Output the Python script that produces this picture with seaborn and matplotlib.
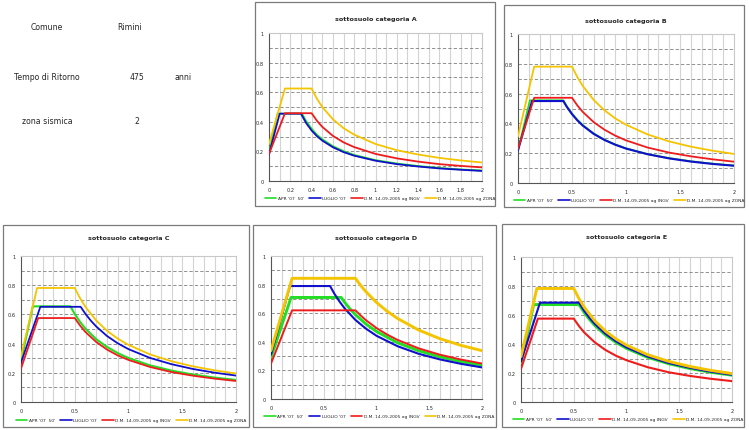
import matplotlib
matplotlib.use("Agg")
import matplotlib.pyplot as plt
from matplotlib.patches import Rectangle
from matplotlib.lines import Line2D
import seaborn as sns
import pandas as pd

# ---------------- data (periodo T [s], accelerazione spettrale Sa [g]) ----------------
series_names = ["APR '07  50'", "LUGLIO '07", "D.M. 14-09-2005 ag INGV", "D.M. 14-09-2005 ag ZONA"]
series_colors = ["#22dd22", "#1010cc", "#ee1c1c", "#f5c400"]

info_labels = ["Comune", "Tempo di Ritorno", "zona sismica"]
info_values = ["Rimini", "475", "2"]

# Panel A
A_T_apr = [0, 0.08, 0.31, 0.35, 0.4, 0.45, 0.5, 0.6, 0.7, 0.8, 1.0, 1.2, 1.4, 1.6, 1.8, 2.0]
A_S_apr = [0.19, 0.455, 0.455, 0.403, 0.353, 0.313, 0.282, 0.235, 0.202, 0.176, 0.141, 0.118, 0.101, 0.088, 0.078, 0.071]
A_T_lug = [0, 0.1, 0.3, 0.35, 0.4, 0.45, 0.5, 0.6, 0.7, 0.8, 1.0, 1.2, 1.4, 1.6, 1.8, 2.0]
A_S_lug = [0.18, 0.455, 0.455, 0.39, 0.341, 0.303, 0.273, 0.228, 0.195, 0.171, 0.137, 0.114, 0.098, 0.085, 0.076, 0.068]
A_T_ingv = [0, 0.15, 0.4, 0.45, 0.5, 0.6, 0.7, 0.8, 1.0, 1.2, 1.4, 1.6, 1.8, 2.0]
A_S_ingv = [0.183, 0.458, 0.458, 0.407, 0.366, 0.305, 0.261, 0.229, 0.183, 0.153, 0.131, 0.114, 0.102, 0.092]
A_T_zona = [0, 0.15, 0.4, 0.45, 0.5, 0.6, 0.7, 0.8, 1.0, 1.2, 1.4, 1.6, 1.8, 2.0]
A_S_zona = [0.25, 0.625, 0.625, 0.556, 0.5, 0.417, 0.357, 0.313, 0.25, 0.208, 0.179, 0.156, 0.139, 0.125]

# Panel B
B_T_apr = [0, 0.11, 0.42, 0.45, 0.5, 0.55, 0.6, 0.7, 0.8, 0.9, 1.0, 1.2, 1.4, 1.6, 1.8, 2.0]
B_S_apr = [0.22, 0.555, 0.555, 0.518, 0.466, 0.424, 0.389, 0.333, 0.291, 0.259, 0.233, 0.194, 0.167, 0.146, 0.13, 0.117]
B_T_lug = [0, 0.13, 0.42, 0.45, 0.5, 0.55, 0.6, 0.7, 0.8, 0.9, 1.0, 1.2, 1.4, 1.6, 1.8, 2.0]
B_S_lug = [0.22, 0.55, 0.55, 0.513, 0.462, 0.42, 0.385, 0.33, 0.289, 0.257, 0.231, 0.193, 0.165, 0.144, 0.128, 0.116]
B_T_ingv = [0, 0.15, 0.5, 0.55, 0.6, 0.7, 0.8, 0.9, 1.0, 1.2, 1.4, 1.6, 1.8, 2.0]
B_S_ingv = [0.229, 0.572, 0.572, 0.52, 0.477, 0.409, 0.358, 0.318, 0.286, 0.238, 0.204, 0.179, 0.159, 0.143]
B_T_zona = [0, 0.15, 0.5, 0.55, 0.6, 0.7, 0.8, 0.9, 1.0, 1.2, 1.4, 1.6, 1.8, 2.0]
B_S_zona = [0.313, 0.781, 0.781, 0.71, 0.651, 0.558, 0.488, 0.434, 0.391, 0.326, 0.279, 0.244, 0.217, 0.195]

# Panel C
C_T_apr = [0, 0.11, 0.46, 0.5, 0.55, 0.6, 0.7, 0.8, 0.9, 1.0, 1.2, 1.4, 1.6, 1.8, 2.0]
C_S_apr = [0.28, 0.655, 0.655, 0.603, 0.548, 0.502, 0.43, 0.377, 0.335, 0.301, 0.251, 0.215, 0.188, 0.167, 0.151]
C_T_lug = [0, 0.18, 0.555, 0.6, 0.65, 0.7, 0.8, 0.9, 1.0, 1.2, 1.4, 1.6, 1.8, 2.0]
C_S_lug = [0.27, 0.652, 0.652, 0.603, 0.557, 0.517, 0.452, 0.402, 0.362, 0.302, 0.259, 0.226, 0.201, 0.181]
C_T_ingv = [0, 0.16, 0.5, 0.55, 0.6, 0.7, 0.8, 0.9, 1.0, 1.2, 1.4, 1.6, 1.8, 2.0]
C_S_ingv = [0.229, 0.575, 0.575, 0.523, 0.479, 0.411, 0.359, 0.319, 0.288, 0.24, 0.205, 0.18, 0.16, 0.144]
C_T_zona = [0, 0.15, 0.5, 0.55, 0.6, 0.7, 0.8, 0.9, 1.0, 1.2, 1.4, 1.6, 1.8, 2.0]
C_S_zona = [0.313, 0.781, 0.781, 0.71, 0.651, 0.558, 0.488, 0.434, 0.391, 0.326, 0.279, 0.244, 0.217, 0.195]

# Panel D
D_T_apr = [0, 0.19, 0.665, 0.7, 0.75, 0.8, 0.9, 1.0, 1.2, 1.4, 1.6, 1.8, 2.0]
D_S_apr = [0.29, 0.71, 0.71, 0.674, 0.629, 0.59, 0.524, 0.472, 0.393, 0.337, 0.295, 0.262, 0.236]
D_T_lug = [0, 0.18, 0.56, 0.6, 0.65, 0.7, 0.8, 0.9, 1.0, 1.2, 1.4, 1.6, 1.8, 2.0]
D_S_lug = [0.31, 0.79, 0.79, 0.737, 0.681, 0.632, 0.553, 0.492, 0.442, 0.369, 0.316, 0.277, 0.246, 0.221]
D_T_ingv = [0, 0.2, 0.8, 0.85, 0.9, 1.0, 1.1, 1.2, 1.4, 1.6, 1.8, 2.0]
D_S_ingv = [0.248, 0.62, 0.62, 0.584, 0.551, 0.496, 0.451, 0.413, 0.354, 0.31, 0.276, 0.248]
D_T_zona = [0, 0.2, 0.8, 0.85, 0.9, 1.0, 1.1, 1.2, 1.4, 1.6, 1.8, 2.0]
D_S_zona = [0.338, 0.844, 0.844, 0.794, 0.75, 0.675, 0.614, 0.563, 0.482, 0.422, 0.375, 0.338]

# Panel E
E_T_apr = [0, 0.12, 0.55, 0.6, 0.65, 0.7, 0.8, 0.9, 1.0, 1.2, 1.4, 1.6, 1.8, 2.0]
E_S_apr = [0.27, 0.672, 0.672, 0.616, 0.569, 0.528, 0.462, 0.411, 0.37, 0.308, 0.264, 0.231, 0.205, 0.185]
E_T_lug = [0, 0.18, 0.55, 0.6, 0.65, 0.7, 0.8, 0.9, 1.0, 1.2, 1.4, 1.6, 1.8, 2.0]
E_S_lug = [0.28, 0.685, 0.685, 0.628, 0.58, 0.538, 0.471, 0.419, 0.377, 0.314, 0.269, 0.236, 0.209, 0.188]
E_T_ingv = [0, 0.16, 0.5, 0.55, 0.6, 0.7, 0.8, 0.9, 1.0, 1.2, 1.4, 1.6, 1.8, 2.0]
E_S_ingv = [0.229, 0.575, 0.575, 0.523, 0.479, 0.411, 0.359, 0.319, 0.288, 0.24, 0.205, 0.18, 0.16, 0.144]
E_T_zona = [0, 0.15, 0.5, 0.55, 0.6, 0.7, 0.8, 0.9, 1.0, 1.2, 1.4, 1.6, 1.8, 2.0]
E_S_zona = [0.313, 0.783, 0.783, 0.712, 0.653, 0.559, 0.489, 0.435, 0.392, 0.326, 0.28, 0.245, 0.218, 0.196]

panel_titles = ["sottosuolo categoria A", "sottosuolo categoria B", "sottosuolo categoria C",
                "sottosuolo categoria D", "sottosuolo categoria E"]
xticks_A = [0, 0.2, 0.4, 0.6, 0.8, 1, 1.2, 1.4, 1.6, 1.8, 2]
xticks_other = [0, 0.5, 1, 1.5, 2]
yticks = [0, 0.2, 0.4, 0.6, 0.8, 1]

panel_data = {
    "A": [(A_T_apr, A_S_apr), (A_T_lug, A_S_lug), (A_T_ingv, A_S_ingv), (A_T_zona, A_S_zona)],
    "B": [(B_T_apr, B_S_apr), (B_T_lug, B_S_lug), (B_T_ingv, B_S_ingv), (B_T_zona, B_S_zona)],
    "C": [(C_T_apr, C_S_apr), (C_T_lug, C_S_lug), (C_T_ingv, C_S_ingv), (C_T_zona, C_S_zona)],
    "D": [(D_T_apr, D_S_apr), (D_T_lug, D_S_lug), (D_T_ingv, D_S_ingv), (D_T_zona, D_S_zona)],
    "E": [(E_T_apr, E_S_apr), (E_T_lug, E_S_lug), (E_T_ingv, E_S_ingv), (E_T_zona, E_S_zona)],
}

# ---------------- layout (pixels of a 749x431 canvas) ----------------
W, H = 749, 431
sns.set_style("white")
plt.rcParams["font.family"] = ["DejaVu Sans"]

fig = plt.figure(figsize=(W / 100, H / 100), dpi=100)
fig.patch.set_facecolor("white")

def fx(px):
    return px / W

def fy(py):
    return 1 - py / H

# frame box (x0, y0, x1, y1), plot box (x0, y0, x1, y1), title y, legend y
layout = {
    "A": ((255, 3, 495, 207), (269, 34, 482, 182), 19, 199),
    "B": ((504, 6, 744, 208), (518, 35, 734, 184), 21, 201),
    "C": ((3, 226, 249, 428), (21, 257, 236, 403), 239, 421),
    "D": ((253, 226, 496, 428), (271, 257, 482, 400), 239, 417),
    "E": ((502, 225, 744, 428), (521, 258, 732, 403), 238, 420),
}
line_widths = {
    "A": [1.3, 1.3, 1.3, 1.3],
    "B": [1.3, 1.5, 1.3, 1.3],
    "C": [1.5, 1.3, 1.3, 1.3],
    "D": [2.1, 1.5, 1.4, 2.1],
    "E": [2.1, 1.5, 1.5, 2.1],
}

# info text top-left
info_y = [28, 77, 122]
info_vx = [130, 137, 137]
for lab, val, yy, vx in zip(info_labels, info_values, info_y, info_vx):
    fig.text(fx(47), fy(yy), lab, ha="center", va="center", fontsize=5.6)
    fig.text(fx(vx), fy(yy), val, ha="center", va="center", fontsize=5.6)
fig.text(fx(183), fy(77), "anni", ha="center", va="center", fontsize=5.6)

grid_vals = [i / 10 for i in range(1, 20)]
hgrid_vals = [i / 10 for i in range(1, 10)]

for key, title in zip(["A", "B", "C", "D", "E"], panel_titles):
    frame, pbox, ty, ly = layout[key]
    fig.patches.append(Rectangle((fx(frame[0]), fy(frame[3])), fx(frame[2] - frame[0]),
                                 (frame[3] - frame[1]) / H, transform=fig.transFigure,
                                 facecolor="none", edgecolor="#7a7a7a", lw=0.9, zorder=0))
    ax = fig.add_axes([fx(pbox[0]), fy(pbox[3]), fx(pbox[2] - pbox[0]), (pbox[3] - pbox[1]) / H])
    ax.set_facecolor("white")

    rows = []
    for name, (tt, ss) in zip(series_names, panel_data[key]):
        for i, (t, s) in enumerate(zip(tt, ss)):
            rows.append({"T": t, "Sa": s, "serie": name, "ord": i})
    df = pd.DataFrame(rows)

    for v in grid_vals:
        ax.axvline(v, color="#d4d4d4", lw=0.8, zorder=0)
    for v in hgrid_vals:
        ax.axhline(v, color="#808080", lw=0.6, ls=(0, (4, 2.5)), zorder=0)

    sns.lineplot(data=df, x="T", y="Sa", hue="serie", hue_order=series_names,
                 palette=series_colors, sort=False, estimator=None,
                 legend=False, ax=ax, zorder=3)
    for ln, lw in zip(ax.lines[-4:], line_widths[key]):
        ln.set_linewidth(lw)

    ax.set_xlim(0, 2)
    ax.set_ylim(0, 1)
    ax.set_xlabel("")
    ax.set_ylabel("")
    xt = xticks_A if key == "A" else xticks_other
    ax.set_xticks(xt)
    ax.set_xticklabels([("%g" % v) for v in xt])
    ax.set_yticks(yticks)
    ax.set_yticklabels([("%g" % v) for v in yticks])
    ax.tick_params(axis="both", labelsize=3.6, length=2, width=0.6, color="#555555", pad=2)
    ax.tick_params(axis="x", direction="out")
    ax.tick_params(axis="y", direction="out")
    for side in ("left", "bottom"):
        ax.spines[side].set_color("#555555")
        ax.spines[side].set_linewidth(0.8)
    for side in ("top", "right"):
        ax.spines[side].set_color("#c8c8c8")
        ax.spines[side].set_linewidth(0.8)
    ax.grid(False)

    cx = (pbox[0] + pbox[2]) / 2
    fig.text(fx(cx), fy(ty), title, ha="center", va="center", fontsize=4.6, fontweight="bold")

    handles = [Line2D([0], [0], color=c, lw=1.2) for c in series_colors]
    fig.legend(handles, series_names, loc="center", bbox_to_anchor=(fx((frame[0] + frame[2]) / 2 + 5), fy(ly)),
               ncol=4, fontsize=3.2, frameon=False, handlelength=2.6, columnspacing=1.2,
               handletextpad=0.3, borderpad=0)

fig.savefig("out.png", dpi=100, facecolor="white")
